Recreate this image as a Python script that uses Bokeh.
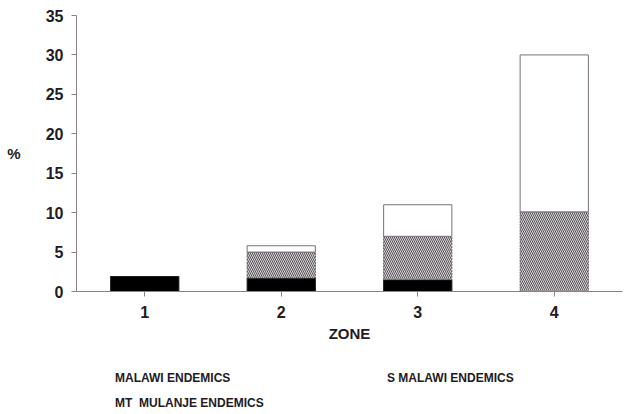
from bokeh.plotting import figure
from bokeh.layouts import column
from bokeh.models import (Legend, LegendItem, FixedTicker, ColumnDataSource,
                          CDSView, IndexFilter)
from bokeh.embed import file_html
from bokeh.resources import INLINE

zones = [1, 2, 3, 4]
zone_labels = ["1", "2", "3", "4"]
malawi = [1.9, 1.7, 1.5, 0.0]
s_malawi = [0.0, 3.3, 5.5, 10.1]
mulanje = [0.0, 0.8, 4.0, 19.9]
y_ticks = [0, 5, 10, 15, 20, 25, 30, 35]
series_names = ["MALAWI ENDEMICS", "S MALAWI ENDEMICS", "MT  MULANJE ENDEMICS"]

TEXT = "#231a23"
AXIS = "#8a808a"
FONT = "Liberation Sans"

STYLES = [
    dict(fill_color="black", line_color="#1a1a1a", line_width=1),
    dict(fill_color="#d6d3d6", hatch_pattern="\\", hatch_color="#5a545a",
         hatch_scale=4, hatch_weight=1, line_color="#6a606a", line_width=1,
         line_dash="2 1"),
    dict(fill_color="white", line_color="#7a707a", line_width=1),
]

p = figure(width=629, height=348, x_range=(0.5, 4.5), y_range=(0, 35),
           output_backend="svg", toolbar_location=None,
           min_border_left=76, min_border_top=15, min_border_right=7,
           min_border_bottom=57)
p.outline_line_color = None
p.grid.visible = False

def seg(vals, base):
    xs, b, t = [], [], []
    for z, v, bb in zip(zones, vals, base):
        if v > 0:
            xs.append(z); b.append(bb); t.append(bb + v)
    return ColumnDataSource(dict(x=xs, bottom=b, top=t))

base1 = [0] * 4
base2 = [a for a in malawi]
base3 = [a + b for a, b in zip(malawi, s_malawi)]

sources = [seg(vals, base) for vals, base in
           zip([malawi, s_malawi, mulanje], [base1, base2, base3])]

for src, st in zip(sources, STYLES):
    p.vbar(x="x", bottom="bottom", top="top", width=0.5, source=src, **st)

xa = p.xaxis[0]
xa.ticker = FixedTicker(ticks=zones)
xa.major_label_overrides = {z: l for z, l in zip(zones, zone_labels)}
xa.axis_label = "ZONE"
ya = p.yaxis[0]
ya.ticker = FixedTicker(ticks=y_ticks)
ya.axis_label = "%"
ya.axis_label_orientation = "horizontal"

for ax in (xa, ya):
    ax.axis_line_color = AXIS
    ax.major_tick_line_color = AXIS
    ax.major_tick_in = 0
    ax.major_tick_out = 5
    ax.minor_tick_line_color = None
    ax.major_label_text_font = FONT
    ax.major_label_text_font_style = "bold"
    ax.major_label_text_font_size = "16px"
    ax.major_label_text_color = TEXT
    ax.axis_label_text_font = FONT
    ax.axis_label_text_font_style = "bold"
    ax.axis_label_text_font_size = "15px"
    ax.axis_label_text_color = TEXT
xa.major_label_standoff = 9
xa.axis_label_standoff = 4
ya.major_label_standoff = 8
ya.axis_label_standoff = 22

# legend panel underneath (its renderers share the data but draw no rows)
p2 = figure(width=629, height=66, x_range=(0.5, 4.5), y_range=(-20, -19),
            output_backend="svg", toolbar_location=None,
            x_axis_type=None, y_axis_type=None, min_border=0)
p2.outline_line_color = None
p2.grid.visible = False
items = []
for name, src, st in zip(series_names, sources, STYLES):
    r = p2.vbar(x="x", bottom="bottom", top="top", width=0.5, source=src,
                view=CDSView(filter=IndexFilter(indices=[])), **st)
    items.append(LegendItem(label=name, renderers=[r]))

legend = Legend(items=items, orientation="horizontal", ncols=2, location=(0, 4),
                margin=0, padding=0,
                border_line_alpha=0, background_fill_alpha=0,
                glyph_width=27, glyph_height=14, label_height=14,
                label_width=222, label_standoff=12, spacing=11,
                label_text_font=FONT, label_text_font_style="bold",
                label_text_font_size="12px", label_text_color=TEXT)
p2.add_layout(legend, "center")

open("out.html", "w").write(file_html(column(p, p2, spacing=0), INLINE))
